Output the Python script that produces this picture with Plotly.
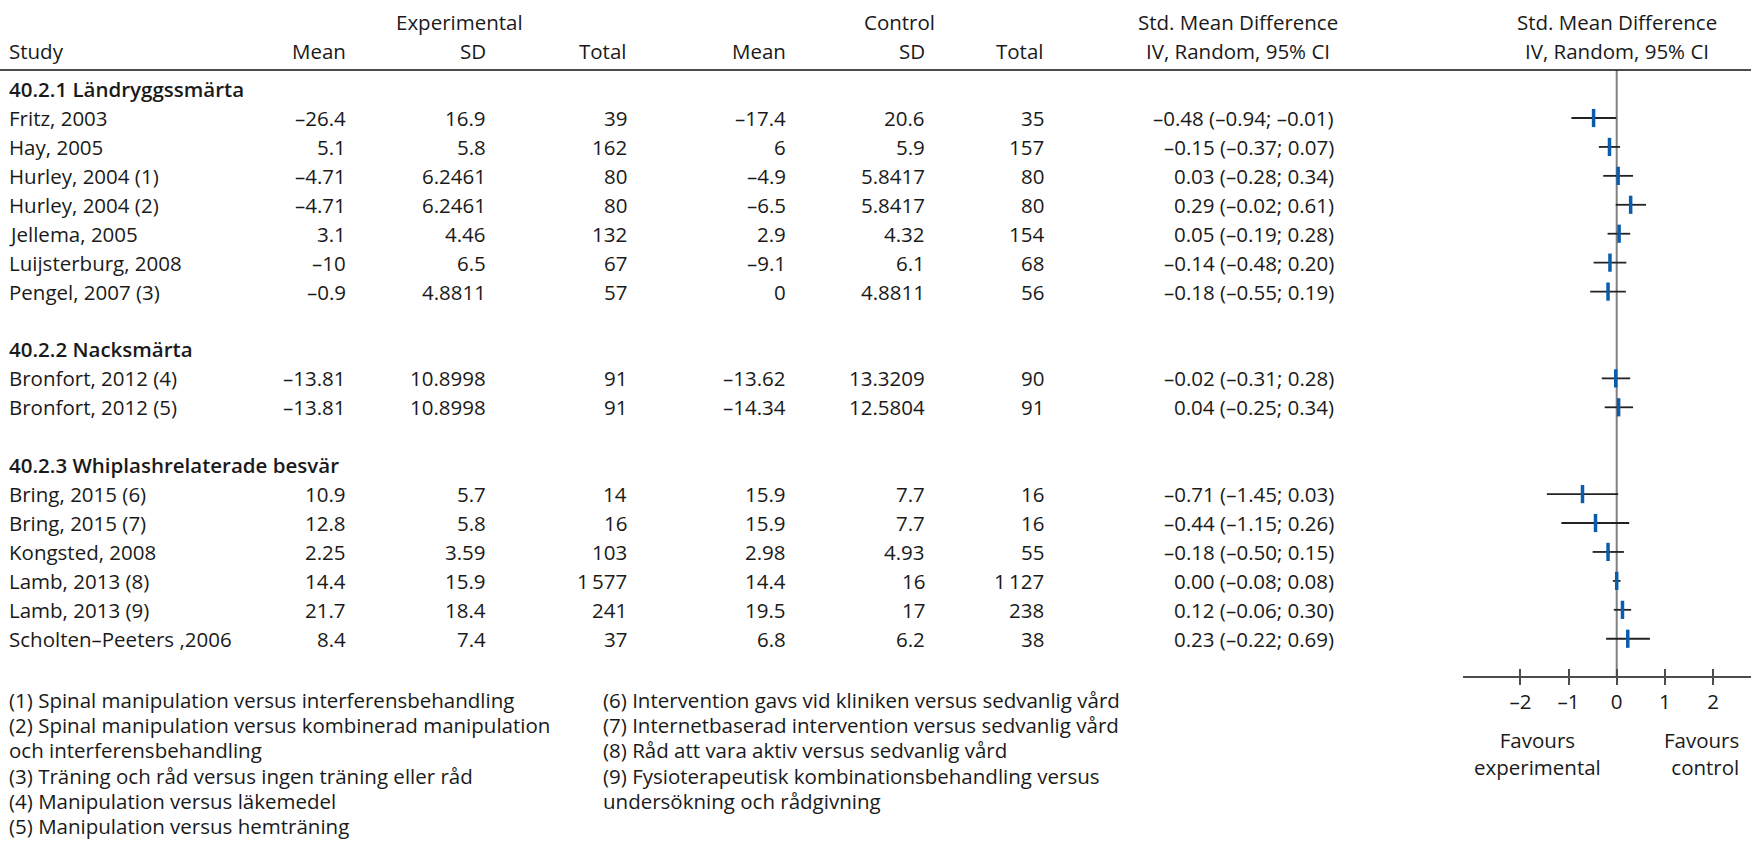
import plotly.graph_objects as go

# ---- data -------------------------------------------------------------
subgroups = ["40.2.1 Ländryggssmärta", "40.2.2 Nacksmärta", "40.2.3 Whiplashrelaterade besvär"]
studies = ["Fritz, 2003", "Hay, 2005", "Hurley, 2004 (1)", "Hurley, 2004 (2)", "Jellema, 2005",
           "Luijsterburg, 2008", "Pengel, 2007 (3)",
           "Bronfort, 2012 (4)", "Bronfort, 2012 (5)",
           "Bring, 2015 (6)", "Bring, 2015 (7)", "Kongsted, 2008", "Lamb, 2013 (8)",
           "Lamb, 2013 (9)", "Scholten–Peeters ,2006"]
study_group = [0, 0, 0, 0, 0, 0, 0, 1, 1, 2, 2, 2, 2, 2, 2]

exp_mean = [-26.4, 5.1, -4.71, -4.71, 3.1, -10, -0.9, -13.81, -13.81, 10.9, 12.8, 2.25, 14.4, 21.7, 8.4]
exp_sd = [16.9, 5.8, 6.2461, 6.2461, 4.46, 6.5, 4.8811, 10.8998, 10.8998, 5.7, 5.8, 3.59, 15.9, 18.4, 7.4]
exp_n = [39, 162, 80, 80, 132, 67, 57, 91, 91, 14, 16, 103, 1577, 241, 37]
ctl_mean = [-17.4, 6, -4.9, -6.5, 2.9, -9.1, 0, -13.62, -14.34, 15.9, 15.9, 2.98, 14.4, 19.5, 6.8]
ctl_sd = [20.6, 5.9, 5.8417, 5.8417, 4.32, 6.1, 4.8811, 13.3209, 12.5804, 7.7, 7.7, 4.93, 16, 17, 6.2]
ctl_n = [35, 157, 80, 80, 154, 68, 56, 90, 91, 16, 16, 55, 1127, 238, 38]

smd = [-0.48, -0.15, 0.03, 0.29, 0.05, -0.14, -0.18, -0.02, 0.04, -0.71, -0.44, -0.18, 0.00, 0.12, 0.23]
ci_lo = [-0.94, -0.37, -0.28, -0.02, -0.19, -0.48, -0.55, -0.31, -0.25, -1.45, -1.15, -0.50, -0.08, -0.06, -0.22]
ci_hi = [-0.01, 0.07, 0.34, 0.61, 0.28, 0.20, 0.19, 0.28, 0.34, 0.03, 0.26, 0.15, 0.08, 0.30, 0.69]

axis_ticks = [-2, -1, 0, 1, 2]

footnotes_left = [
    "(1) Spinal manipulation versus interferensbehandling",
    "(2) Spinal manipulation versus kombinerad manipulation",
    "och interferensbehandling",
    "(3) Träning och råd versus ingen träning eller råd",
    "(4) Manipulation versus läkemedel",
    "(5) Manipulation versus hemträning",
]
footnotes_right = [
    "(6) Intervention gavs vid kliniken versus sedvanlig vård",
    "(7) Internetbaserad intervention versus sedvanlig vård",
    "(8) Råd att vara aktiv versus sedvanlig vård",
    "(9) Fysioterapeutisk kombinationsbehandling versus",
    "undersökning och rådgivning",
]

# ---- page geometry (pixels) ------------------------------------------
W, H = 1751, 854
FONT = "Open Sans"
FS = 20.5
INK = "#1a1a1a"
ROW0_PX, ROW_STEP = 118.0, 28.93          # centre of first study row, row pitch
TOP_PX, AXIS_PX = 70.0, 676.0              # header rule, x-axis line
ZERO_PX, UNIT_PX = 1616.7, 48.15           # x=0 position, pixels per SMD unit
PLOT_LEFT_PX = 1463.0
LEFT_PX = 7                                # left edge of the study column


def px_x(p):
    return p / W


def px_y(p):
    return 1 - p / H


def fmt(v):
    return str(v).replace("-", "–")


def fmt_n(n):
    return f"{n:,}".replace(",", "\u2009")


def fmt2(v):
    return f"{v:.2f}".replace("-", "–")


# assign row indices: subgroup heading, its studies, then a gap row
row_of_study = []
row_of_group = []
r = -1
for g in range(len(subgroups)):
    row_of_group.append(r)
    r += 1
    for i, sg in enumerate(study_group):
        if sg == g:
            row_of_study.append(r)
            r += 1
    r += 1

y_top = (TOP_PX - ROW0_PX) / ROW_STEP
y_bot = (AXIS_PX - ROW0_PX) / ROW_STEP

fig = go.Figure()

# confidence intervals with point estimates
fig.add_trace(go.Scatter(
    x=smd, y=row_of_study, mode="markers",
    marker=dict(symbol="line-ns", size=13, color="#0b5cab",
                line=dict(color="#0b5cab", width=3.5)),
    error_x=dict(type="data", symmetric=False,
                 array=[h - m for h, m in zip(ci_hi, smd)],
                 arrayminus=[m - l for m, l in zip(smd, ci_lo)],
                 color="#222222", thickness=1.8, width=0),
    hoverinfo="skip", showlegend=False, cliponaxis=False,
))
# invisible trace on the overlay axis so its ticks render
fig.add_trace(go.Scatter(x=[0], y=[0], xaxis="x2", mode="markers",
                         marker=dict(opacity=0), hoverinfo="skip", showlegend=False))

x_range = [(PLOT_LEFT_PX - ZERO_PX) / UNIT_PX, (W - ZERO_PX) / UNIT_PX]
dom_y = [px_y(AXIS_PX), px_y(TOP_PX)]
tick_txt = [fmt(t) for t in axis_ticks]

fig.update_layout(
    width=W, height=H,
    margin=dict(l=0, r=0, t=0, b=0),
    paper_bgcolor="white", plot_bgcolor="white",
    font=dict(family=FONT, size=FS, color=INK),
    xaxis=dict(domain=[px_x(PLOT_LEFT_PX), 1], range=x_range, showgrid=False, zeroline=False,
               showline=True, linecolor="#4d4d4d", linewidth=1.5,
               ticks="outside", ticklen=7, tickwidth=1.5, tickcolor="#4d4d4d",
               tickvals=axis_ticks, ticktext=tick_txt, tickfont=dict(size=FS, color=INK),
               fixedrange=True),
    xaxis2=dict(overlaying="x", anchor="y", side="bottom", range=x_range,
                showgrid=False, zeroline=False, showline=False,
                ticks="inside", ticklen=7, tickwidth=1.5, tickcolor="#4d4d4d",
                tickvals=axis_ticks, showticklabels=False, fixedrange=True),
    yaxis=dict(domain=dom_y, range=[y_bot, y_top], visible=False, fixedrange=True),
)

shapes = [
    dict(type="line", xref="paper", yref="paper", x0=0, x1=1, y0=px_y(TOP_PX), y1=px_y(TOP_PX),
         line=dict(color="#111111", width=1.5)),
    dict(type="line", xref="x", yref="paper", x0=0, x1=0, y0=dom_y[0], y1=dom_y[1],
         line=dict(color="#808080", width=2), layer="below"),
]
fig.update_layout(shapes=shapes)

ann = []


def txt(text, x_px, y, anchor="left", yref="y", size=FS, weight=None):
    f = dict(family=FONT, size=size, color=INK)
    if weight:
        f["weight"] = weight
    ann.append(dict(text=text, x=px_x(x_px), xref="paper", y=y, yref=yref,
                    xanchor=anchor, yanchor="middle", showarrow=False, font=f))


# column headers
HDR1, HDR2 = px_y(22), px_y(51)
txt("Experimental", 460, HDR1, "center", "paper")
txt("Control", 899, HDR1, "center", "paper")
txt("Std. Mean Difference", 1238, HDR1, "center", "paper")
txt("Std. Mean Difference", 1617, HDR1, "center", "paper")
txt("Study", LEFT_PX, HDR2, "left", "paper")
col_right = [348, 488, 629, 788, 927, 1046]
for lab, xr in zip(["Mean", "SD", "Total", "Mean", "SD", "Total"], col_right):
    txt(lab, xr, HDR2, "right", "paper")
txt("IV, Random, 95% CI", 1238, HDR2, "center", "paper")
txt("IV, Random, 95% CI", 1617, HDR2, "center", "paper")

# subgroup headings
for g, name in enumerate(subgroups):
    txt(name, LEFT_PX, row_of_group[g], "left", weight=600)

# study rows
CI_RIGHT = 1336
for i, name in enumerate(studies):
    y = row_of_study[i]
    txt(name, LEFT_PX, y)
    vals = [fmt(exp_mean[i]), fmt(exp_sd[i]), fmt_n(exp_n[i]),
            fmt(ctl_mean[i]), fmt(ctl_sd[i]), fmt_n(ctl_n[i])]
    for v, xr in zip(vals, col_right):
        txt(v, xr, y, "right")
    txt(f"{fmt2(smd[i])} ({fmt2(ci_lo[i])}; {fmt2(ci_hi[i])})", CI_RIGHT, y, "right")

# favours labels under the axis
txt("Favours<br>experimental", 1537, px_y(753), "center", "paper")
ann.append(dict(text="Favours<br>control", x=px_x(1741), xref="paper", y=px_y(753), yref="paper",
                xanchor="right", yanchor="middle", align="right", showarrow=False,
                font=dict(family=FONT, size=FS, color=INK)))

# footnotes
FN_FS = 20.5
FN_TOP, FN_STEP = 700, 25.2
for k, line in enumerate(footnotes_left):
    txt(line, LEFT_PX, px_y(FN_TOP + k * FN_STEP), "left", "paper", size=FN_FS)
for k, line in enumerate(footnotes_right):
    txt(line, 601, px_y(FN_TOP + k * FN_STEP), "left", "paper", size=FN_FS)

fig.update_layout(annotations=ann)
fig.write_html("out.html")
